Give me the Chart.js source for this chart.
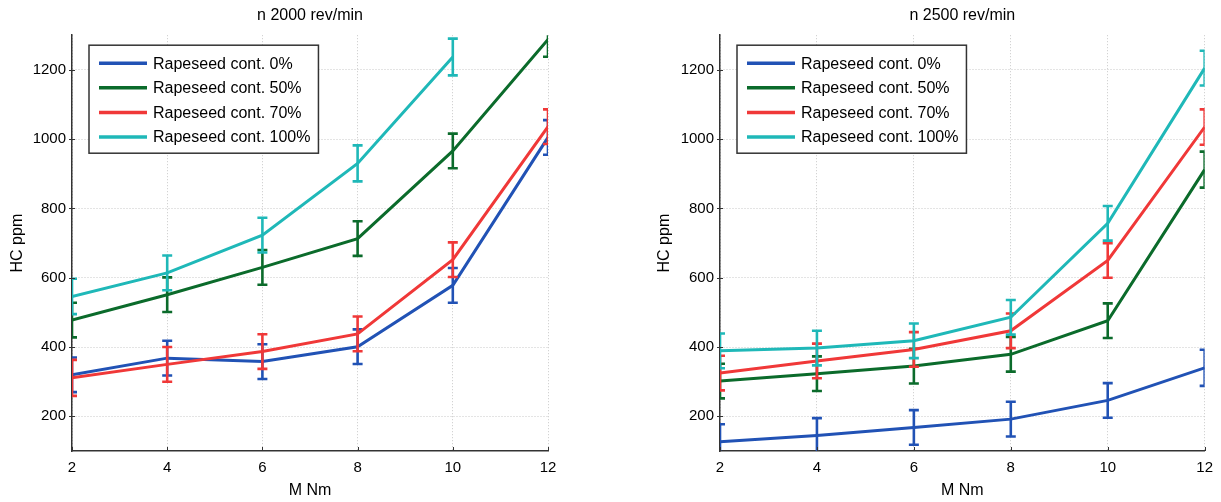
<!DOCTYPE html>
<html><head><meta charset="utf-8">
<script src="https://cdn.jsdelivr.net/npm/chart.js@4.4.0/dist/chart.umd.min.js"></script>
<style>
html,body{margin:0;padding:0;background:#fff;width:1221px;height:502px;overflow:hidden}
.w{position:absolute;top:0;height:502px}
#w1{left:0;width:610px}
#w2{left:610px;width:611px}
</style></head><body>
<div class="w" id="w1"><canvas id="c1" width="610" height="502"></canvas></div>
<div class="w" id="w2"><canvas id="c2" width="611" height="502"></canvas></div>
<script>
// ---- data ----
const torque = [2, 4, 6, 8, 10, 12];
const xTicks = [2, 4, 6, 8, 10, 12];
const yTicks = [200, 400, 600, 800, 1000, 1200];
const seriesLabels = ['Rapeseed cont. 0%', 'Rapeseed cont. 50%', 'Rapeseed cont. 70%', 'Rapeseed cont. 100%'];
const seriesColors = ['#2152b5', '#0b6b2b', '#f03838', '#1fb8b8'];

// n 2000 rev/min
const hc2000_0   = [320, 368, 358, 401, 578, 1005];
const hc2000_50  = [478, 551, 630, 713, 966, 1288];
const hc2000_70  = [311, 350, 387, 438, 652, 1036];
const hc2000_100 = [546, 614, 723, 930, 1237, null];
const err2000_0   = [50, 50, 50, 50, 50, 50];
const err2000_50  = [50, 50, 50, 50, 50, 50];
const err2000_70  = [52, 50, 50, 50, 50, 50];
const err2000_100 = [51, 50, 50, 52, 53, 0];

// n 2500 rev/min
const hc2500_0   = [127, 145, 168, 192, 246, 340];
const hc2500_50  = [302, 323, 345, 379, 476, 912];
const hc2500_70  = [325, 360, 393, 447, 650, 1035];
const hc2500_100 = [389, 397, 418, 486, 757, 1205];
const err2500_0   = [50, 50, 50, 50, 50, 52];
const err2500_50  = [50, 50, 50, 50, 50, 52];
const err2500_70  = [50, 50, 50, 50, 50, 51];
const err2500_100 = [50, 50, 50, 50, 50, 50];

const FONT = "'Liberation Sans', Arial, Helvetica, sans-serif";

// ---- plugins ----
const errorBarPlugin = {
  id: 'errbars',
  afterDatasetDraw(chart, args) {
    const ds = chart.data.datasets[args.index];
    if (!ds.errors) return;
    const { ctx, chartArea: a, scales: { x, y } } = chart;
    ctx.save();
    ctx.beginPath();
    ctx.rect(a.left, a.top, a.right - a.left, a.bottom - a.top);
    ctx.clip();
    ctx.strokeStyle = ds.borderColor;
    ctx.lineWidth = 2.6;
    ctx.lineCap = 'butt';
    ds.data.forEach((p, i) => {
      if (p.y == null) return;
      const e = ds.errors[i];
      if (!e) return;
      const px = x.getPixelForValue(p.x);
      const t = y.getPixelForValue(p.y + e);
      const b = y.getPixelForValue(p.y - e);
      ctx.beginPath();
      ctx.moveTo(px, t); ctx.lineTo(px, b);
      ctx.moveTo(px - 5, t); ctx.lineTo(px + 5, t);
      ctx.moveTo(px - 5, b); ctx.lineTo(px + 5, b);
      ctx.stroke();
    });
    ctx.restore();
  }
};

const innerTicksPlugin = {
  id: 'innerTicks',
  afterDraw(chart) {
    const { ctx, chartArea: a, scales: { x, y } } = chart;
    ctx.save();
    ctx.strokeStyle = '#333';
    ctx.lineWidth = 1;
    ctx.beginPath();
    x.ticks.forEach(t => { const px = Math.round(x.getPixelForValue(t.value)) + 0.5; ctx.moveTo(px, a.bottom); ctx.lineTo(px, a.bottom - 4); });
    y.ticks.forEach(t => { const py = Math.round(y.getPixelForValue(t.value)) + 0.5; ctx.moveTo(a.left - 3, py); ctx.lineTo(a.left + 3, py); });
    ctx.stroke();
    ctx.restore();
  }
};

const boxLegendPlugin = {
  id: 'boxLegend',
  afterDraw(chart) {
    const { ctx, chartArea: a } = chart;
    const dss = chart.data.datasets;
    ctx.save();
    ctx.font = '16px ' + FONT;
    let maxW = 0;
    dss.forEach(d => { maxW = Math.max(maxW, ctx.measureText(d.label).width); });
    const left = a.left + 17, top = a.top + 10;
    const w = 64 + maxW + 8, h = 108;
    ctx.fillStyle = '#fff';
    ctx.fillRect(left, top, w, h);
    ctx.strokeStyle = '#333';
    ctx.lineWidth = 1.5;
    ctx.strokeRect(left, top, w, h);
    dss.forEach((d, i) => {
      const cy = top + 18 + 24.6 * i;
      ctx.strokeStyle = d.borderColor;
      ctx.lineWidth = 3.5;
      ctx.beginPath(); ctx.moveTo(left + 10, cy); ctx.lineTo(left + 58, cy); ctx.stroke();
      ctx.fillStyle = '#000';
      ctx.textBaseline = 'middle';
      ctx.textAlign = 'left';
      ctx.fillText(d.label, left + 64, cy + 1);
    });
    ctx.restore();
  }
};

function makeDatasets(vals, errs) {
  return vals.map((v, i) => ({
    label: seriesLabels[i],
    data: torque.map((t, j) => ({ x: t, y: v[j] })),
    errors: errs[i],
    borderColor: seriesColors[i],
    backgroundColor: seriesColors[i],
    borderWidth: 3,
    pointRadius: 0,
    tension: 0,
    spanGaps: false,
    order: 3 - i
  }));
}

function makeChart(canvasId, title, vals, errs, padLeft, yWidth, padRight) {
  return new Chart(document.getElementById(canvasId), {
    type: 'line',
    data: { datasets: makeDatasets(vals, errs) },
    options: {
      responsive: false,
      animation: false,
      events: [],
      layout: { padding: { left: padLeft, right: padRight, top: 0, bottom: 0 } },
      plugins: {
        legend: { display: false },
        tooltip: { enabled: false },
        title: {
          display: true, text: title, fullSize: false, color: '#000',
          font: { family: FONT, size: 16, weight: 'normal' },
          padding: { top: 6, bottom: 10 }
        }
      },
      scales: {
        x: {
          type: 'linear', min: 2, max: 12,
          afterBuildTicks: s => { s.ticks = xTicks.map(v => ({ value: v })); },
          afterFit: s => { s.height = 51; },
          ticks: { color: '#000', font: { family: FONT, size: 15 }, padding: 8, maxRotation: 0, callback: v => String(v) },
          grid: { color: '#c9c9c9', lineWidth: 1, drawTicks: false },
          border: { display: true, color: '#333', width: 1.5, dash: [1, 2] },
          title: { display: true, text: 'M Nm', color: '#000', font: { family: FONT, size: 16 }, padding: { top: 0, bottom: 2 } }
        },
        y: {
          type: 'linear', min: 100, max: 1300,
          afterBuildTicks: s => { s.ticks = yTicks.map(v => ({ value: v })); },
          afterFit: s => { s.width = yWidth; },
          ticks: { color: '#000', font: { family: FONT, size: 15 }, padding: 6, callback: v => String(v) },
          grid: { color: '#c9c9c9', lineWidth: 1, drawTicks: false },
          border: { display: true, color: '#333', width: 1.5, dash: [1, 2] },
          title: { display: true, text: 'HC ppm', color: '#000', font: { family: FONT, size: 16 }, padding: { top: 8, bottom: 0 } }
        }
      }
    },
    plugins: [errorBarPlugin, innerTicksPlugin, boxLegendPlugin]
  });
}

makeChart('c1', 'n 2000 rev/min',
  [hc2000_0, hc2000_50, hc2000_70, hc2000_100],
  [err2000_0, err2000_50, err2000_70, err2000_100], 0, 72, 62);
makeChart('c2', 'n 2500 rev/min',
  [hc2500_0, hc2500_50, hc2500_70, hc2500_100],
  [err2500_0, err2500_50, err2500_70, err2500_100], 37, 73, 15);
</script>
</body></html>
